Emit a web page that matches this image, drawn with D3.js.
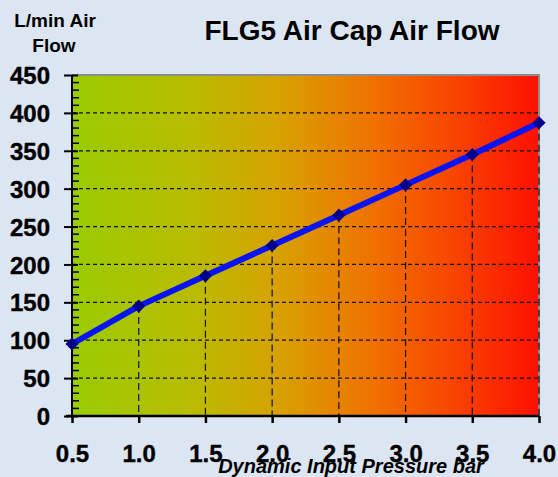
<!DOCTYPE html>
<html><head><meta charset="utf-8">
<script src="https://cdn.jsdelivr.net/npm/d3@7"></script>
<style>
html,body{margin:0;padding:0;background:#dce6f2;}
svg{display:block;font-family:"Liberation Sans",Arial,sans-serif;}
</style></head>
<body>
<script>
const pressure = [0.5, 1.0, 1.5, 2.0, 2.5, 3.0, 3.5, 4.0];
const airFlow = [95, 145, 185, 225, 265, 305, 345, 387];
const xTickLabels = ["0.5","1.0","1.5","2.0","2.5","3.0","3.5","4.0"];
const yTicks = [0,50,100,150,200,250,300,350,400,450];
const title = "FLG5 Air Cap Air Flow";
const yTitle = ["L/min Air","Flow"];
const xTitle = "Dynamic Input Pressure bar";

const W = 558, H = 477;
const m = {left:72, right:19, top:75, bottom:61};
const svg = d3.select("body").append("svg").attr("width",W).attr("height",H);
svg.append("rect").attr("width",W).attr("height",H).attr("fill","#dce6f2");

const x = d3.scaleLinear().domain([0.5,4.0]).range([m.left, W-m.right]);
const y = d3.scaleLinear().domain([0,450]).range([H-m.bottom, m.top]);

const defs = svg.append("defs");
const grad = defs.append("linearGradient").attr("id","bg").attr("x1","0").attr("x2","1").attr("y1","0").attr("y2","0");
[["0%","#9acc00"],["25%","#b8bc00"],["45%","#d8a000"],["65%","#f07000"],["82%","#f84400"],["100%","#ff1000"]]
  .forEach(([o,c])=>grad.append("stop").attr("offset",o).attr("stop-color",c));

// plot area
svg.append("rect").attr("x",x(0.5)).attr("y",y(450)).attr("width",x(4)-x(0.5)).attr("height",y(0)-y(450)).attr("fill","url(#bg)");
// gray border top & right
svg.append("path").attr("d",`M${x(0.5)},${y(450)}H${x(4)}V${y(0)}`).attr("fill","none").attr("stroke","#8c8c8c").attr("stroke-width",2);

// horizontal dashed gridlines
svg.append("g").selectAll("line").data(yTicks.filter(d=>d>0 && d<450)).join("line")
  .attr("x1",x(0.5)).attr("x2",x(4)).attr("y1",d=>y(d)).attr("y2",d=>y(d))
  .attr("stroke","#111").attr("stroke-width",1.2).attr("stroke-dasharray","4,3");
// drop lines
svg.append("g").selectAll("line").data(pressure.map((p,i)=>[p,airFlow[i]]).filter(d=>d[0]>0.5)).join("line")
  .attr("x1",d=>x(d[0])).attr("x2",d=>x(d[0])).attr("y1",d=>y(d[1])).attr("y2",y(0))
  .attr("stroke","#111").attr("stroke-width",1.2).attr("stroke-dasharray","7,4");

// y axis
const yAxis = d3.axisLeft(y).tickValues(yTicks).tickSize(8).tickFormat(d=>d);
const gy = svg.append("g").attr("transform",`translate(${x(0.5)},0)`).call(yAxis);
gy.select(".domain").attr("stroke","#000").attr("stroke-width",2).attr("d",`M0,${y(450)}V${y(0)}`);
gy.selectAll(".tick line").attr("stroke","#000").attr("stroke-width",2).attr("x1",6);
gy.selectAll(".tick text").attr("font-size",24).attr("font-weight","bold").attr("fill","#000")
  .attr("stroke","#000").attr("stroke-width",0.4).attr("x",-22).attr("dy","0.36em");
// minor ticks
const minor = d3.range(0,451,10).filter(d=>d%50!==0);
svg.append("g").selectAll("line").data(minor).join("line")
  .attr("x1",x(0.5)).attr("x2",x(0.5)+7).attr("y1",d=>y(d)).attr("y2",d=>y(d))
  .attr("stroke","#000").attr("stroke-width",1.5);

// x axis
const xAxis = d3.axisBottom(x).tickValues(pressure).tickSize(7).tickFormat((d,i)=>xTickLabels[i]);
const gx = svg.append("g").attr("transform",`translate(0,${y(0)})`).call(xAxis);
gx.select(".domain").attr("stroke","#000").attr("stroke-width",2.5).attr("d",`M${x(0.5)-6},0H${x(4)}`);
gx.selectAll(".tick line").attr("stroke","#000").attr("stroke-width",2.5);
gx.selectAll(".tick text").attr("font-size",24).attr("font-weight","bold").attr("fill","#000")
  .attr("stroke","#000").attr("stroke-width",0.4).attr("y",29);

// line
const line = d3.line().x((d,i)=>x(pressure[i])).y(d=>y(d));
svg.append("path").datum(airFlow).attr("d",line).attr("fill","none").attr("stroke","#0a14f0").attr("stroke-width",6).attr("stroke-linejoin","round");
svg.append("g").selectAll("path").data(airFlow).join("path")
  .attr("d",d3.symbol(d3.symbolDiamond2,110))
  .attr("transform",(d,i)=>`translate(${x(pressure[i])},${y(d)})`)
  .attr("fill","#00008c");

// titles
svg.append("text").attr("x",352).attr("y",40).attr("text-anchor","middle").attr("font-size",28).attr("font-weight","bold").attr("fill","#000").text(title);
svg.append("text").attr("x",55).attr("y",27).attr("text-anchor","middle").attr("font-size",19).attr("font-weight","bold").attr("fill","#000").text(yTitle[0]);
svg.append("text").attr("x",54).attr("y",52).attr("text-anchor","middle").attr("font-size",19).attr("font-weight","bold").attr("fill","#000").text(yTitle[1]);
svg.append("text").attr("x",351).attr("y",473).attr("text-anchor","middle").attr("font-size",20).attr("font-weight","bold").attr("font-style","italic").attr("fill","#000").text(xTitle);
</script>
</body></html>
